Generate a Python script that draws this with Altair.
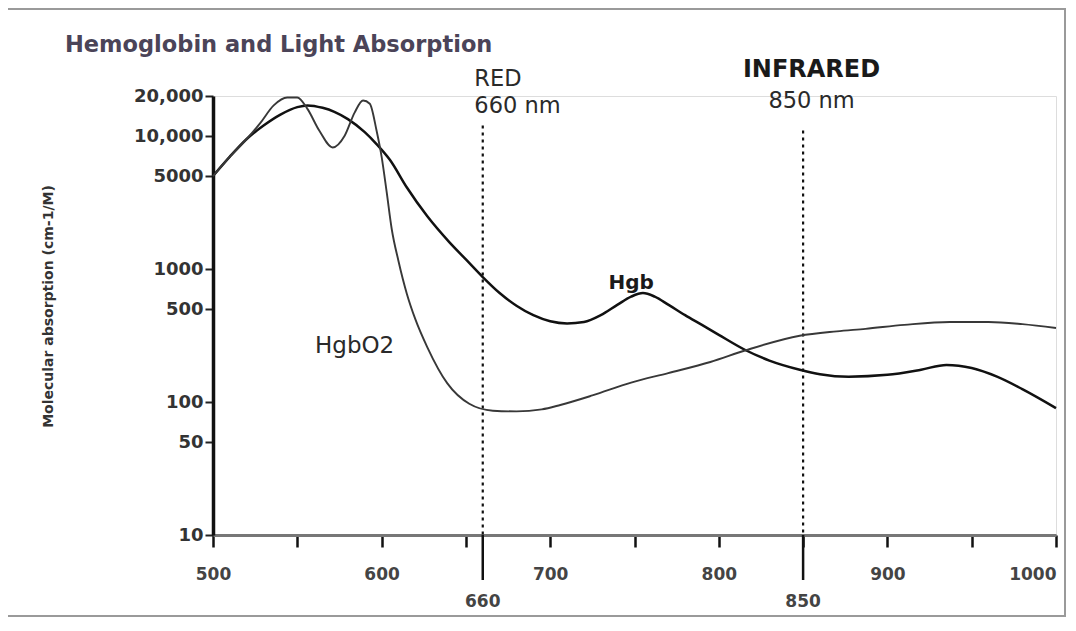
import altair as alt
import pandas as pd

# ---- data ----
hgb_nm = [500, 510, 520, 530, 540, 550, 556, 565, 572, 580, 590, 597, 605, 615, 627, 640, 650, 660,
          670, 680, 690, 700, 710, 720, 730, 740, 748, 755, 762, 770, 780, 790, 800, 816, 830, 848,
          860, 877, 900, 920, 935, 950, 965, 980, 1000]
hgb_val = [5000, 7000, 9500, 12000, 14500, 16500, 17000, 16300, 15200, 13400, 10700, 8700, 6600, 4100,
           2500, 1600, 1180, 870, 660, 530, 450, 405, 390, 400, 450, 540, 620, 660, 620, 540, 450,
           380, 320, 245, 205, 175, 162, 155, 160, 175, 190, 180, 155, 125, 90]

oxy_nm = [500, 510, 520, 528, 536, 544, 550, 556, 563, 571, 578, 584, 589, 593, 597, 600, 603, 606,
          610, 615, 620, 627, 639, 652, 666, 680, 695, 706, 725, 748, 770, 795, 816, 848, 870, 887,
          910, 937, 960, 980, 1000]
oxy_val = [5000, 7000, 9500, 12500, 17000, 19500, 19500, 16000, 11000, 8200, 10000, 15000, 18500,
           17500, 11000, 7000, 3800, 2000, 1150, 650, 420, 260, 138, 97, 86, 85, 88, 95, 112, 140,
           165, 200, 245, 315, 340, 355, 380, 400, 400, 385, 360]

x_ticks = [500, 550, 600, 650, 700, 750, 800, 850, 900, 950, 1000]
y_ticks = [10, 50, 100, 500, 1000, 5000, 10000, 20000]

marker_nm = [660, 850]
marker_top = [12000, 11000]
marker_label = ["660", "850"]

# annotations: text, wavelength, absorption level
hdr_text = ["RED", "660 nm", "850 nm"]
hdr_nm = [655, 655, 855]
hdr_val = [26800, 16800, 18300]
hdr_align = ["left", "left", "center"]

bold_text = ["INFRARED", "Hgb"]
bold_nm = [855, 748]
bold_val = [31300, 790]
bold_size = [24, 20]

oxy_label = ["HgbO2"]
oxy_label_nm = [584]
oxy_label_val = [262]

title_text = "Hemoglobin and Light Absorption"
ytitle_text = "Molecular absorption (cm-1/M)"

# ---- build ----
W, H = 843, 439
FONT = "DejaVu Sans"

df = pd.concat([
    pd.DataFrame({"nm": hgb_nm, "val": hgb_val, "series": "Hgb"}),
    pd.DataFrame({"nm": oxy_nm, "val": oxy_val, "series": "HgbO2"}),
])
mk = pd.DataFrame({"nm": marker_nm, "top": marker_top, "label": marker_label})
hdr = pd.DataFrame({"nm": hdr_nm, "val": hdr_val, "text": hdr_text, "align": hdr_align})
bld = pd.DataFrame({"nm": bold_nm, "val": bold_val, "text": bold_text, "size": bold_size})
oxl = pd.DataFrame({"nm": oxy_label_nm, "val": oxy_label_val, "text": oxy_label})

xs = alt.Scale(domain=[500, 1000], nice=False)
ys = alt.Scale(type="log", domain=[10, 20000], nice=False)

x_axis = alt.Axis(
    values=x_ticks, title=None, grid=False, labelFlush=False,
    labelExpr="datum.value % 100 == 0 ? datum.label : ''",
    labelAlign=alt.ExprRef(expr="datum.value == 1000 ? 'right' : 'center'"),
    format="d", domainColor="#777", domainWidth=3, tickColor="#111", tickWidth=2.5,
    tickSize=12, labelPadding=19, labelFont=FONT, labelFontWeight="bold",
    labelFontSize=17, labelColor="#444",
)
y_axis = alt.Axis(
    values=y_ticks, grid=False, title=ytitle_text,
    labelExpr="datum.value >= 10000 ? format(datum.value, ',') : format(datum.value, 'd')",
    domainColor="#111", domainWidth=3.5, tickColor="#222", tickWidth=2, tickSize=8,
    labelPadding=2, labelFont=FONT, labelFontWeight="bold", labelFontSize=18,
    labelColor="#333", titleFont=FONT, titleFontSize=14, titleFontWeight="bold",
    titleColor="#333", titleX=-165, titleY=210, titleAngle=270, titleAlign="center",
    titleBaseline="middle",
)

lines = alt.Chart(df).mark_line(interpolate="monotone").encode(
    x=alt.X("nm:Q", scale=xs, axis=x_axis),
    y=alt.Y("val:Q", scale=ys, axis=y_axis),
    color=alt.Color("series:N", scale=alt.Scale(domain=["Hgb", "HgbO2"], range=["#111111", "#383838"]), legend=None),
    strokeWidth=alt.StrokeWidth("series:N", scale=alt.Scale(domain=["Hgb", "HgbO2"], range=[2.5, 1.9]), legend=None),
)

dotted = alt.Chart(mk).mark_rule(strokeDash=[3, 4], strokeWidth=2.2, color="#111").encode(
    x=alt.X("nm:Q", scale=xs),
    y=alt.Y("top:Q", scale=ys),
    y2=alt.value(H),
)

long_ticks = alt.Chart(mk).mark_rule(strokeWidth=2.5, color="#111").encode(
    x=alt.X("nm:Q", scale=xs),
    y=alt.value(H),
    y2=alt.value(H + 45),
)

mk_labels = alt.Chart(mk).mark_text(
    font=FONT, fontSize=17, fontWeight="bold", color="#444", baseline="middle"
).encode(
    x=alt.X("nm:Q", scale=xs),
    y=alt.value(H + 67),
    text="label:N",
)

hdr_left = alt.Chart(hdr).transform_filter("datum.align == 'left'").mark_text(
    font=FONT, fontSize=22.5, color="#2a2a2a", align="left", baseline="middle"
).encode(x=alt.X("nm:Q", scale=xs), y=alt.Y("val:Q", scale=ys), text="text:N")

hdr_center = alt.Chart(hdr).transform_filter("datum.align == 'center'").mark_text(
    font=FONT, fontSize=22.5, color="#2a2a2a", align="center", baseline="middle"
).encode(x=alt.X("nm:Q", scale=xs), y=alt.Y("val:Q", scale=ys), text="text:N")

bold_lbl = alt.Chart(bld).mark_text(
    font=FONT, fontWeight="bold", color="#1a1a1a", align="center", baseline="middle"
).encode(
    x=alt.X("nm:Q", scale=xs), y=alt.Y("val:Q", scale=ys), text="text:N",
    size=alt.Size("size:Q", scale=None, legend=None),
)

oxy_lbl = alt.Chart(oxl).mark_text(
    font=FONT, fontSize=23, color="#2a2a2a", align="center", baseline="middle"
).encode(x=alt.X("nm:Q", scale=xs), y=alt.Y("val:Q", scale=ys), text="text:N")

title = alt.Chart(pd.DataFrame({"t": [title_text]})).mark_text(
    font=FONT, fontSize=22.5, fontWeight="bold", color="#4b4458", align="left", baseline="middle"
).encode(x=alt.value(-148), y=alt.value(-51), text="t:N")

frame = alt.Chart(pd.DataFrame({"a": [0]})).mark_rect(
    filled=False, stroke="#9a9a9a", strokeWidth=2
).encode(x=alt.value(-206), x2=alt.value(852), y=alt.value(-87), y2=alt.value(520))

chart = alt.layer(
    frame, title, dotted, long_ticks, mk_labels, lines, hdr_left, hdr_center, bold_lbl, oxy_lbl
).properties(
    width=W, height=H,
    autosize=alt.AutoSizeParams(type="none"),
    padding={"left": 205, "top": 88, "right": 12, "bottom": 83},
).configure_view(stroke=None).configure(background="white")

chart.save("out.html", embed_options={"renderer": "svg", "actions": False})
